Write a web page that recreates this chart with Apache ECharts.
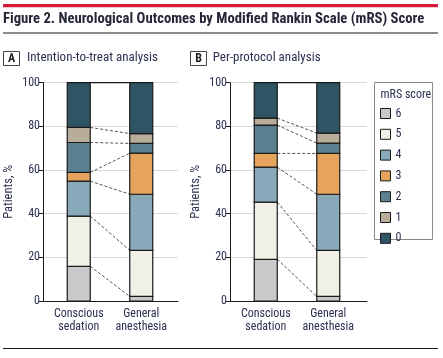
<!DOCTYPE html>
<html><head><meta charset="utf-8">
<script src="https://cdn.jsdelivr.net/npm/echarts@6/dist/echarts.min.js"></script>
<style>html,body{margin:0;padding:0;background:#fff}#c{width:443px;height:358px}</style>
</head><body><div id="c"></div>
<script>
// ---- data ----
const groups = ['Conscious\nsedation', 'General\nanesthesia'];
const scores = ['6', '5', '4', '3', '2', '1', '0'];
const yTicks = [0, 20, 40, 60, 80, 100];
// percentages for each mRS score (order 6..0)
const ittCS = [15.9, 23.0, 16.0, 4.0, 13.7, 6.9, 20.5];
const ittGA = [2.1, 21.1, 25.7, 18.8, 4.5, 4.5, 23.3];
const ppCS  = [19.1, 26.2, 16.0, 6.3, 13.0, 3.2, 16.2];
const ppGA  = [2.1, 21.1, 25.7, 18.7, 4.7, 4.6, 23.1];
const panelTitles = ['Intention-to-treat analysis', 'Per-protocol analysis'];
const panelLetters = ['A', 'B'];

// ---- style ----
const colors = ['#c8c9cb', '#f0f0e6', '#87a9b9', '#e5a35c', '#5b808f', '#b8ad98', '#2f5565'];
const FONT = "'Liberation Sans Narrow', 'Roboto Condensed', Roboto, sans-serif";
const TXT = '#2a3150';
const BARW = 23;

const grids = [
  { left: 43, right: 443 - 178, top: 82.7, bottom: 358 - 301 },
  { left: 230, right: 443 - 367, top: 82.7, bottom: 358 - 301 }
];
const pxPerUnit = 62.5;
const xMin = 1 - 35.75 / pxPerUnit;

function cum(arr) { const out = []; let s = 0; arr.forEach(v => { s += v; out.push(s); }); return out; }

const series = [];
const xAxes = [], yAxes = [];
[[ittCS, ittGA], [ppCS, ppGA]].forEach((pair, p) => {
  const width = 443 - grids[p].left - grids[p].right;
  xAxes.push({
    gridIndex: p, type: 'value', min: xMin, max: xMin + width / pxPerUnit,
    splitLine: { show: false }, axisTick: { show: false },
    axisLine: { show: true, lineStyle: { color: '#1a1a1a', width: 1 } },
    axisLabel: {
      customValues: [1, 2], formatter: v => groups[Math.round(v) - 1] || '',
      color: TXT, fontFamily: FONT, fontSize: 12, lineHeight: 13.5, margin: 6
    }
  });
  yAxes.push({
    gridIndex: p, type: 'value', min: 0, max: 100, interval: 20,
    name: 'Patients, %', nameLocation: 'middle', nameGap: 28,
    nameTextStyle: { color: TXT, fontFamily: FONT, fontSize: 12.5 },
    axisLine: { show: true, lineStyle: { color: '#1a1a1a', width: 1 } },
    axisTick: { show: true, length: 4, lineStyle: { color: '#1a1a1a' } },
    axisLabel: { color: TXT, fontFamily: FONT, fontSize: 12, margin: 3 },
    splitLine: { show: true, lineStyle: { color: '#d9d9d9', width: 1 } }
  });
  const [cs, ga] = pair;
  const c1 = cum(cs), c2 = cum(ga);
  scores.forEach((s, i) => {
    series.push({
      type: 'custom', name: s, xAxisIndex: p, yAxisIndex: p, z: 3,
      encode: { x: 0, y: [1, 2] },
      itemStyle: { color: colors[i], borderColor: '#1a1a1a', borderWidth: 1.2 },
      data: [[1, c1[i] - cs[i], c1[i]], [2, c2[i] - ga[i], c2[i]]],
      renderItem: (params, api) => {
        const lo = api.coord([api.value(0), api.value(1)]);
        const hi = api.coord([api.value(0), api.value(2)]);
        return {
          type: 'rect',
          shape: { x: lo[0] - BARW / 2, y: hi[1], width: BARW, height: lo[1] - hi[1] },
          style: { fill: colors[i], stroke: '#1a1a1a', lineWidth: 1.2 }
        };
      }
    });
  });
  const links = c1.map((v, i) => [1, v, 2, c2[i], i === c1.length - 1 ? 1 : 0]);
  series.push({
    type: 'custom', xAxisIndex: p, yAxisIndex: p, z: 2,
    encode: { x: [0, 2], y: [1, 3] },
    data: links,
    renderItem: (params, api) => {
      const a = api.coord([api.value(0), api.value(1)]);
      const b = api.coord([api.value(2), api.value(3)]);
      const top = api.value(4) === 1;
      return {
        type: 'line',
        shape: { x1: a[0] + BARW / 2, y1: a[1], x2: b[0] - BARW / 2, y2: b[1] },
        style: { stroke: top ? '#1a1a1a' : '#555', lineWidth: top ? 1.2 : 1, lineDash: top ? null : [3, 2] }
      };
    }
  });
});

const graphic = [
  { type: 'rect', shape: { x: 3, y: 4, width: 435, height: 3.3 }, style: { fill: '#d7193a' } },
  { type: 'text', left: 3, top: 11.5, style: { text: 'Figure 2. Neurological Outcomes by Modified Rankin Scale (mRS) Score', font: `bold 14.7px ${FONT}`, fill: '#252738' } },
  { type: 'rect', shape: { x: 3, y: 32.5, width: 435, height: 1 }, style: { fill: '#1a1a1a' } },
  { type: 'rect', shape: { x: 3, y: 348, width: 435, height: 1 }, style: { fill: '#1a1a1a' } },
  // legend box
  { type: 'rect', shape: { x: 374.5, y: 82.5, width: 58, height: 157 }, style: { fill: '#fff', stroke: '#8a8a8a', lineWidth: 1 }, z: 0 },
  { type: 'text', x: 380.5, y: 89, style: { text: 'mRS score', font: `12px ${FONT}`, fill: TXT }, z: 5 }
];
[[3.5, 27], [190.5, 212.7]].forEach((pos, p) => {
  graphic.push({ type: 'rect', shape: { x: pos[0], y: 51.5, width: 16, height: 14 }, style: { fill: '#fff', stroke: '#444', lineWidth: 1 } });
  graphic.push({ type: 'text', x: pos[0] + 8, y: 58.5, style: { text: panelLetters[p], font: `bold 12px ${FONT}`, fill: '#222', align: 'center', verticalAlign: 'middle' } });
  graphic.push({ type: 'text', x: pos[1], y: 58, style: { text: panelTitles[p], font: `13px ${FONT}`, fill: TXT, verticalAlign: 'middle' } });
});

const chart = echarts.init(document.getElementById('c'), null, { renderer: 'canvas' });
chart.setOption({
  animation: false,
  grid: grids,
  xAxis: xAxes,
  yAxis: yAxes,
  series: series,
  legend: {
    data: scores, orient: 'vertical', left: 380, top: 107.5,
    itemWidth: 10, itemHeight: 10, itemGap: 8.8, icon: 'rect',
    itemStyle: { borderColor: '#1a1a1a', borderWidth: 1 },
    textStyle: { color: TXT, fontFamily: FONT, fontSize: 12 },
    selectedMode: false, padding: 0
  },
  graphic: graphic
});
</script></body></html>
